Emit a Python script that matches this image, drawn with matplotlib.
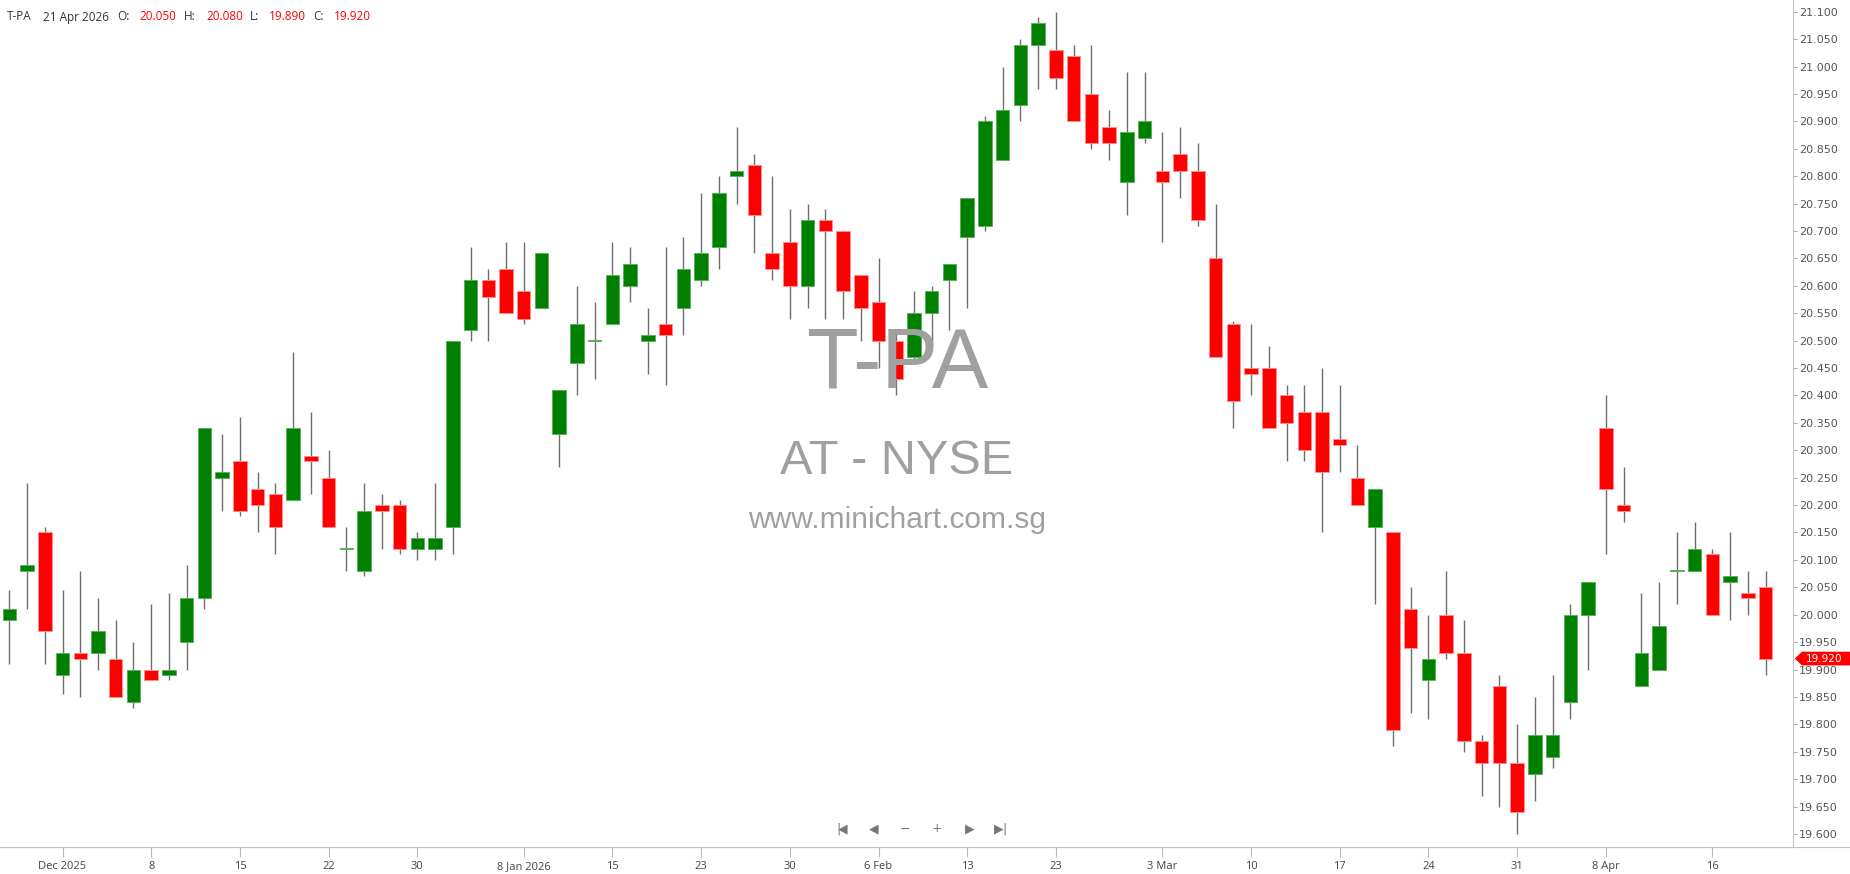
import pandas as pd
import matplotlib
matplotlib.use("Agg")
import matplotlib.pyplot as plt
from matplotlib.lines import Line2D
from matplotlib.patches import Polygon
import matplotlib.transforms as mtransforms

# daily OHLC, T-PA, 25 Nov 2025 .. 21 Apr 2026
opens = [19.99, 20.08, 20.15, 19.89, 19.93, 19.93, 19.92, 19.84, 19.90, 19.89,
         19.95, 20.03, 20.25, 20.28, 20.23, 20.22, 20.21, 20.29, 20.25, 20.12,
         20.08, 20.20, 20.20, 20.12, 20.12, 20.16, 20.52, 20.61, 20.63, 20.59,
         20.56, 20.33, 20.46, 20.50, 20.53, 20.60, 20.50, 20.53, 20.56, 20.61,
         20.67, 20.80, 20.82, 20.66, 20.68, 20.60, 20.72, 20.70, 20.62, 20.57,
         20.50, 20.47, 20.55, 20.61, 20.69, 20.71, 20.83, 20.93, 21.04, 21.03,
         21.02, 20.95, 20.89, 20.79, 20.87, 20.81, 20.84, 20.81, 20.65, 20.53,
         20.45, 20.45, 20.40, 20.37, 20.37, 20.32, 20.25, 20.16, 20.15, 20.01,
         19.88, 20.00, 19.93, 19.77, 19.87, 19.73, 19.71, 19.74, 19.84, 20.00,
         20.34, 20.20, 19.87, 19.90, 20.08, 20.08, 20.11, 20.06, 20.04, 20.05]
highs = [20.045, 20.24, 20.16, 20.045, 20.08, 20.03, 19.99, 19.95, 20.02, 20.04,
         20.09, 20.34, 20.33, 20.36, 20.26, 20.24, 20.48, 20.37, 20.30, 20.16,
         20.24, 20.22, 20.21, 20.15, 20.24, 20.50, 20.67, 20.63, 20.68, 20.68,
         20.66, 20.41, 20.60, 20.57, 20.68, 20.67, 20.56, 20.67, 20.69, 20.77,
         20.80, 20.89, 20.84, 20.80, 20.74, 20.75, 20.74, 20.70, 20.62, 20.65,
         20.52, 20.59, 20.60, 20.64, 20.76, 20.91, 21.00, 21.05, 21.09, 21.10,
         21.04, 21.04, 20.92, 20.99, 20.99, 20.88, 20.89, 20.86, 20.75, 20.535,
         20.53, 20.49, 20.42, 20.42, 20.45, 20.42, 20.31, 20.23, 20.15, 20.05,
         20.00, 20.08, 19.99, 19.78, 19.89, 19.80, 19.85, 19.89, 20.02, 20.06,
         20.40, 20.27, 20.04, 20.06, 20.15, 20.17, 20.12, 20.15, 20.08, 20.08]
lows = [19.91, 20.01, 19.91, 19.855, 19.85, 19.90, 19.85, 19.83, 19.88, 19.88,
        19.90, 20.01, 20.19, 20.18, 20.15, 20.11, 20.21, 20.22, 20.16, 20.08,
        20.07, 20.12, 20.11, 20.10, 20.10, 20.11, 20.50, 20.50, 20.55, 20.53,
        20.56, 20.27, 20.40, 20.43, 20.53, 20.57, 20.44, 20.42, 20.51, 20.60,
        20.63, 20.75, 20.66, 20.61, 20.54, 20.56, 20.54, 20.54, 20.50, 20.45,
        20.40, 20.46, 20.49, 20.52, 20.56, 20.70, 20.83, 20.90, 20.96, 20.96,
        20.90, 20.85, 20.83, 20.73, 20.86, 20.68, 20.76, 20.71, 20.47, 20.34,
        20.40, 20.34, 20.28, 20.28, 20.15, 20.26, 20.20, 20.02, 19.76, 19.82,
        19.81, 19.92, 19.75, 19.67, 19.65, 19.60, 19.66, 19.72, 19.81, 19.90,
        20.11, 20.17, 19.87, 19.90, 20.02, 20.08, 20.00, 19.99, 20.00, 19.89]
closes = [20.01, 20.09, 19.97, 19.93, 19.92, 19.97, 19.85, 19.90, 19.88, 19.90,
          20.03, 20.34, 20.26, 20.19, 20.20, 20.16, 20.34, 20.28, 20.16, 20.12,
          20.19, 20.19, 20.12, 20.14, 20.14, 20.50, 20.61, 20.58, 20.55, 20.54,
          20.66, 20.41, 20.53, 20.50, 20.62, 20.64, 20.51, 20.51, 20.63, 20.66,
          20.77, 20.81, 20.73, 20.63, 20.60, 20.72, 20.70, 20.59, 20.56, 20.50,
          20.43, 20.55, 20.59, 20.64, 20.76, 20.90, 20.92, 21.04, 21.08, 20.98,
          20.90, 20.86, 20.86, 20.88, 20.90, 20.79, 20.81, 20.72, 20.47, 20.39,
          20.44, 20.34, 20.35, 20.30, 20.26, 20.31, 20.20, 20.23, 19.79, 19.94,
          19.92, 19.93, 19.77, 19.73, 19.73, 19.64, 19.78, 19.78, 20.00, 20.06,
          20.23, 20.19, 19.93, 19.98, 20.08, 20.12, 20.00, 20.07, 20.03, 19.92]

holidays = ["2025-11-27", "2025-12-25", "2026-01-01", "2026-01-19",
            "2026-02-16", "2026-04-03"]
tick_dates = ["2025-12-01", "2025-12-08", "2025-12-15", "2025-12-22", "2025-12-30",
              "2026-01-08", "2026-01-15", "2026-01-23", "2026-01-30", "2026-02-06",
              "2026-02-13", "2026-02-23", "2026-03-03", "2026-03-10", "2026-03-17",
              "2026-03-24", "2026-03-31", "2026-04-08", "2026-04-16"]
tick_labels = ["Dec 2025", "8", "15", "22", "30", "8 Jan 2026", "15", "23", "30",
               "6 Feb", "13", "23", "3 Mar", "10", "17", "24", "31", "8 Apr", "16"]

dates = pd.bdate_range("2025-11-25", "2026-04-21", freq="C", holidays=holidays)
x = list(range(len(dates)))

fig = plt.figure(figsize=(18.5, 8.74), dpi=100)
bottom = 1 - 847 / 874
ax = fig.add_axes([0, bottom, 1793 / 1850, 1 - bottom])

UP, DOWN = "#008000", "#ff0000"
colors = [UP if c >= o else DOWN for o, c in zip(opens, closes)]
edges = ["#5cae5c" if c >= o else "#ff8f8f" for o, c in zip(opens, closes)]

ax.vlines(x, lows, highs, color="#6e6e6e", lw=1.0, zorder=1)
heights = [max(abs(c - o), 0.0015) for o, c in zip(opens, closes)]
bottoms = [min(o, c) if abs(c - o) > 0.0015 else o - 0.0007 for o, c in zip(opens, closes)]
ax.bar(x, heights, bottom=bottoms, width=0.76, color=colors,
       edgecolor=edges, linewidth=0.7, zorder=2)

ax.set_xlim(-0.524, 100.55)
ax.set_ylim(19.5762, 21.1215)

# axes styling
for s in ["top", "left"]:
    ax.spines[s].set_visible(False)
ax.spines["right"].set_color("#c4c4c4")
ax.spines["bottom"].set_color("#c4c4c4")
fig.add_artist(Line2D([0, 1], [bottom, bottom], color="#c4c4c4", lw=0.8))

yt = [19.60 + 0.05 * i for i in range(31)]
ax.yaxis.tick_right()
ax.set_yticks(yt)
ax.set_yticklabels([f"{v:.3f}" for v in yt])
ax.tick_params(axis="y", length=3, pad=1.5, color="#aaaaaa", labelcolor="#555555",
               labelsize=8, labelfontfamily="DejaVu Sans")

ax.set_xticks([dates.get_loc(pd.Timestamp(d)) for d in tick_dates])
ax.set_xticklabels(tick_labels)
ax.tick_params(axis="x", length=7, pad=3, color="#bbbbbb", labelcolor="#444444",
               labelsize=8, labelfontfamily="Open Sans")

# watermark
wm = dict(ha="center", va="center", color="#a0a0a0", family="Liberation Sans",
          transform=fig.transFigure, zorder=0)
fig.text(897 / 1850, 1 - 366 / 874, "T-PA", fontsize=61, **wm)
fig.text(897 / 1850, 1 - 462 / 874, "AT - NYSE", fontsize=35, **wm)
fig.text(897 / 1850, 1 - 520 / 874, "www.minichart.com.sg", fontsize=21.5, **wm)

# header line
hdr = [(7, "T-PA", "#333333"), (43, "21 Apr 2026", "#333333"), (117, "O:", "#333333"),
       (139, "20.050", "#ff0000"), (184, "H:", "#333333"), (206, "20.080", "#ff0000"),
       (250, "L:", "#333333"), (269, "19.890", "#ff0000"), (313, "C:", "#333333"),
       (334, "19.920", "#ff0000")]
for px, s, c in hdr:
    fig.text(px / 1850, 1 - 17 / 874, s, color=c, fontsize=8.5, family="Open Sans",
             ha="left", va="center")

# last price tag
trans = mtransforms.blended_transform_factory(ax.transAxes, ax.transData)
last = closes[-1]
hh = 0.0125
tag = Polygon([(1.001, last), (1.005, last + hh), (1.04, last + hh),
               (1.04, last - hh), (1.005, last - hh)], closed=True,
              transform=trans, fc="#ff0000", ec="none", clip_on=False, zorder=9)
ax.add_patch(tag)
ax.text(1.0072, last, f"{last:.3f}", transform=trans, color="white", fontsize=7.6,
        family="DejaVu Sans", ha="left", va="center", clip_on=False, zorder=10)

# navigation buttons
nav_y = 1 - 829 / 874
for px, s in [(838, "|"), (843, "◀"), (874, "◀"), (905, "−"), (937, "+"),
              (970, "▶"), (999, "▶"), (1005, "|")]:
    fig.text(px / 1850, nav_y, s, color="#777777", fontsize=9, family="DejaVu Sans",
             ha="center", va="center")

plt.savefig("out.png", dpi=100)
